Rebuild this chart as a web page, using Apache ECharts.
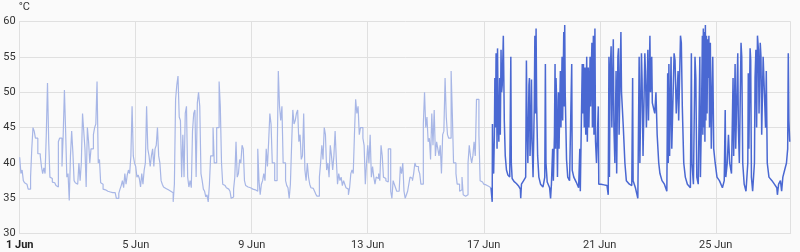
<!DOCTYPE html>
<html>
<head>
<meta charset="utf-8">
<script src="https://cdn.jsdelivr.net/npm/echarts@6/dist/echarts.min.js"></script>
<style>
html,body{margin:0;padding:0;background:#fafafa;}
#c{width:800px;height:252px;}
</style>
</head>
<body>
<div id="c"></div>
<script>
// Hours are counted from 1 Jun 00:00
const xTickLabels = ['1 Jun', '5 Jun', '9 Jun', '13 Jun', '17 Jun', '21 Jun', '25 Jun'];
const yTicks = [30, 35, 40, 45, 50, 55, 60];
const unitLabel = '°C';

// earlier period: hourly readings, starting at hour 0
const lightValues = [
  40.8, 38.5, 39, 37.5, 37.2, 37, 36.8, 36.3, 36.3, 38, 42, 45, 44.5, 43.5, 43.5, 41.3, 41.3, 41, 39.5, 38.5, 39.3, 38.5, 44, 51.3,
  43, 38, 37.8, 37.3, 37.2, 37, 36.8, 36.6, 43, 43.5, 43.5, 39.5, 44, 50.3, 44.5, 38, 38.5, 34.7, 41, 44.5, 41.5, 37.5, 37.2, 37,
  37, 40, 37.5, 40, 47, 44.5, 42, 36.6, 45, 43, 40, 42, 42, 44, 45, 45.5, 51.5, 40, 40.5, 37.2, 37, 36.3, 36.2, 36.1,
  36, 36, 35.9, 35.9, 35.8, 35.8, 35.8, 35.6, 35, 35, 35.7, 36.3, 36.8, 37.5, 36.5, 38.5, 37, 38.3, 39, 38.5, 41, 48, 41, 40,
  39.5, 38, 38.3, 37.8, 36.6, 38.5, 37, 39, 40, 48, 42, 41, 39.5, 41, 42, 39.5, 42, 42.5, 45, 41, 40, 37.5, 37, 36.6,
  36.4, 36.3, 36.2, 36.1, 36, 35.9, 35.8, 34.5, 37, 49, 51, 52.3, 46.5, 46, 38, 44, 38, 47, 48, 38, 36.6, 37.5, 36.5, 44.5,
  47, 47.5, 38, 48.5, 50, 48, 38.5, 37.5, 36.3, 36, 35.2, 35.5, 34.5, 37, 41, 41, 45, 40, 40, 45, 45, 51.5, 48, 40,
  37, 36.8, 36.8, 36.5, 36.3, 36.2, 36, 35, 35.2, 36.3, 38, 43, 38, 38.5, 40.5, 40, 42.5, 42, 37.5, 36.8, 36.6, 36.5, 36.5, 36.4,
  36.3, 36.2, 36.2, 36.1, 36, 42, 37.5, 35.5, 37, 37.5, 38.5, 37.5, 42, 39.5, 43, 47, 45.5, 40, 40, 37.5, 37.5, 40, 53, 48,
  46, 48, 40, 40, 37.5, 36.8, 36.5, 35, 37, 42.5, 47.5, 45.5, 46, 47, 47.5, 43, 44, 40.5, 41, 47, 39, 37.5, 40, 38,
  37, 36.5, 36.4, 36.2, 36, 35.6, 35.3, 35.3, 38, 40, 42.5, 40.5, 45, 44, 39, 40, 38, 42.5, 41, 39, 41, 44.5, 40.5, 37,
  38.5, 37.5, 38, 36.8, 37.5, 37, 36.5, 36.3, 35.5, 36.5, 38.5, 39, 38.5, 44, 49, 47, 48, 44, 45, 45, 43.5, 42.5, 37, 40,
  42.5, 40, 44, 38, 39.5, 38, 37, 38, 37.8, 38.5, 37.5, 42.5, 41, 38, 37.8, 37.5, 37.3, 42, 42, 36, 35, 37.5, 37, 36.5,
  36, 36, 36, 39.5, 38.5, 40, 36, 35, 35.5, 36, 37, 38, 37.8, 37.5, 38.5, 40, 39.5, 39.5, 39, 38.5, 37, 37, 45.5, 50,
  45, 46.5, 43, 43.5, 40.5, 47, 42.5, 47.5, 41, 43, 42, 41, 42.5, 38.5, 44, 44.5, 52, 46.5, 44, 43.5, 43.5, 53, 47, 40,
  40, 38.5, 37, 37, 36, 36.2, 38, 35.5, 35.3, 35.3, 35.5, 40, 42.5, 41, 40, 41, 43, 41, 49, 49, 44, 37.5, 37.3, 37.1,
  37, 36.9, 36.8, 36.7, 36.6, 36.5, 36.5
];

// later period: readings at irregular times (hours since 1 Jun 00:00)
const darkHours = [
  390, 391.0, 391.2, 391.6, 392.2, 392.8, 393.2, 393.7, 394.2, 394.7, 395.0, 395.4, 395.9, 396.5, 397.2, 397.7, 398.3, 398.8, 399.3, 400.2,
  400.6, 401.0, 401.8, 402.8, 404.0, 405.5, 406.4, 406.8, 407.5, 409.0, 411.0, 413.0, 414.3, 414.6, 415.2, 417.0, 418.7, 419.3, 419.8, 420.5,
  421.4, 421.8, 422.3, 423.0, 423.5, 424.0, 424.8, 425.8, 426.3, 426.8, 427.3, 427.8, 428.6, 429.6, 431.0, 433.0, 434.5, 435.0, 435.5, 436.5,
  438.5, 439.3, 440.0, 441.0, 441.6, 442.5, 443.0, 443.4, 443.8, 444.3, 445.0, 445.8, 446.3, 447.4, 447.9, 448.8, 449.3, 450.2, 450.6, 451.0,
  451.4, 452.5, 453.5, 455.0, 456.8, 457.2, 458.5, 460.5, 462.5, 463.5, 463.9, 465.5, 466.0, 466.5, 467.2, 467.8, 468.4, 469.2, 469.7, 470.5,
  471.0, 472.0, 472.4, 473.5, 473.9, 474.7, 475.2, 476.0, 476.5, 477.3, 478.8, 479.2, 481.0, 483.5, 486.0, 487.0, 487.6, 488.0, 488.6, 489.4,
  490.0, 491.2, 491.7, 492.5, 493.5, 494.0, 495.0, 495.5, 496.0, 497.5, 498.0, 499.5, 500.8, 502.0, 504.5, 506.5, 507.2, 507.6, 509.5, 511.5,
  512.6, 513.2, 514.5, 515.0, 515.8, 517.3, 517.8, 518.6, 519.8, 520.3, 521.5, 522.0, 523.0, 523.5, 525.5, 526.5, 527.5, 528.8, 529.8, 531.5,
  533.5, 535.5, 536.2, 536.7, 537.2, 537.8, 539.0, 539.6, 541.5, 542.3, 543.3, 544.8, 545.3, 546.8, 547.5, 548.3, 549.5, 550.8, 552.5, 555.0,
  555.8, 556.3, 557.5, 558.8, 559.5, 560.3, 561.5, 562.8, 563.3, 564.2, 564.9, 565.3, 565.7, 566.1, 566.6, 567.0, 567.4, 567.8, 568.3, 568.8,
  569.3, 569.8, 570.3, 570.8, 571.5, 572.3, 573.0, 573.5, 574.3, 575.5, 577.0, 579.0, 581.5, 583.0, 583.8, 584.3, 585.5, 586.5, 587.5, 589.0,
  590.3, 590.8, 592.0, 592.5, 594.2, 594.7, 595.5, 596.9, 597.5, 598.3, 599.5, 601.0, 602.5, 602.9, 603.4, 604.4, 604.9, 605.5, 606.5, 608.0,
  608.5, 609.2, 609.8, 610.5, 611.3, 611.8, 612.8, 613.4, 614.0, 615.2, 615.8, 617.2, 617.8, 618.6, 620.0, 622.5, 624.5, 626.5, 627.0, 628.0,
  629.5, 630.5, 631.5, 633.0, 634.5, 635.5, 636.0, 636.5, 637.2
];
const darkValues = [
  36.5, 34.5, 45.5, 39.5, 38.5, 44, 52, 45, 55.5, 48, 42, 56.2, 47, 43, 52, 44, 56, 50, 51, 58,
  52, 46, 41, 39, 38.3, 38, 55, 40, 37.8, 37.4, 37.1, 36.7, 36.3, 35, 37, 37.5, 38, 54.5, 46, 40,
  51, 52, 41, 45, 51.8, 43, 38, 48, 58, 47, 59, 48, 41, 38, 37, 36.6, 38, 54, 40, 37.3,
  36.5, 35, 37, 42, 37.5, 44, 54, 42, 52, 49, 38, 50, 42, 53, 45, 55, 46, 58.5, 48, 59.5,
  50, 40.5, 38, 37.5, 54, 39, 38, 37.3, 36.5, 42, 36, 54, 47, 54, 45, 53.5, 44, 55, 43, 53.5,
  45, 55, 48, 57, 45, 58, 44, 59, 43, 40, 48, 37, 37, 36.9, 36.8, 35.5, 55, 38, 52.7, 56.5,
  45, 57.5, 45, 40, 53, 38.5, 55, 56.2, 44, 58.5, 50, 45, 40, 37.5, 37, 36.8, 52, 37.5, 36.5, 35,
  55, 40, 55.5, 52, 41, 55.5, 53, 45, 56, 46, 58, 50, 55, 48.5, 47, 50, 44, 40, 38.5, 37.5,
  37, 36, 52.7, 40, 54, 41, 55, 42, 55.5, 54.5, 47, 53, 46, 58, 57, 48, 40, 38, 37, 36.5,
  55.5, 40, 37, 55, 52, 38, 37, 55, 38, 47, 58, 44, 59, 45, 58.5, 43, 59.5, 46, 58, 47,
  57.5, 52, 58, 45, 57, 42, 50, 55, 42, 40, 38, 37.5, 36.5, 37.5, 47.5, 38, 40, 44, 40, 38.5,
  52, 41, 54, 42, 55.5, 45, 40, 57, 55, 40, 37, 36, 40, 52.7, 42, 56.2, 54.6, 38, 36, 40,
  52, 56, 45, 58, 56, 47, 57, 55, 44, 55, 52, 45, 53, 40, 38, 37.5, 37, 36.5, 35.5, 37,
  37.5, 36, 38, 39, 40, 42, 55.5, 46, 43
];

const xMax = 638;
const chart = echarts.init(document.getElementById('c'), null, {renderer: 'canvas'});
const labelFont = 'Roboto, "Liberation Sans", sans-serif';
chart.setOption({
  animation: false,
  backgroundColor: '#fafafa',
  grid: {left: 19.7, right: 9.3, top: 21.5, bottom: 18.3, containLabel: false},
  xAxis: {
    type: 'value', min: 0, max: xMax, interval: 96,
    axisLine: {show: true, lineStyle: {color: '#e0e0e0'}},
    axisTick: {show: false},
    splitLine: {show: true, lineStyle: {color: '#e0e0e0', width: 1}},
    axisLabel: {
      color: '#333', fontSize: 11, fontFamily: labelFont, margin: 6,
      showMaxLabel: true,
      formatter: function (v) {
        if (v % 96 !== 0) return '';
        const i = v / 96;
        if (i === 0) return '{b|' + xTickLabels[0] + '}';
        return xTickLabels[i] || '';
      },
      rich: {b: {fontWeight: 'bold', fontSize: 11, fontFamily: labelFont, color: '#222'}}
    }
  },
  yAxis: {
    type: 'value', min: yTicks[0], max: yTicks[yTicks.length - 1], interval: yTicks[1] - yTicks[0],
    name: unitLabel, nameLocation: 'end', nameGap: 9,
    nameTextStyle: {color: '#333', fontSize: 11, fontFamily: labelFont, align: 'left', padding: [0, 0, 0, -1]},
    axisLine: {show: true, lineStyle: {color: '#e0e0e0'}},
    axisTick: {show: false},
    splitLine: {show: true, lineStyle: {color: '#e0e0e0', width: 1}},
    axisLabel: {color: '#333', fontSize: 11, fontFamily: labelFont, margin: 4}
  },
  series: [
    {
      type: 'line', step: 'end', showSymbol: false, z: 2,
      data: lightValues.map((v, i) => [i, v]),
      lineStyle: {color: '#a7b6e6', width: 1.2}
    },
    {
      type: 'line', showSymbol: false, z: 3,
      data: darkHours.map((h, i) => [h, darkValues[i]]),
      lineStyle: {color: '#4a68d2', width: 1.5}
    }
  ]
});
</script>
</body>
</html>
